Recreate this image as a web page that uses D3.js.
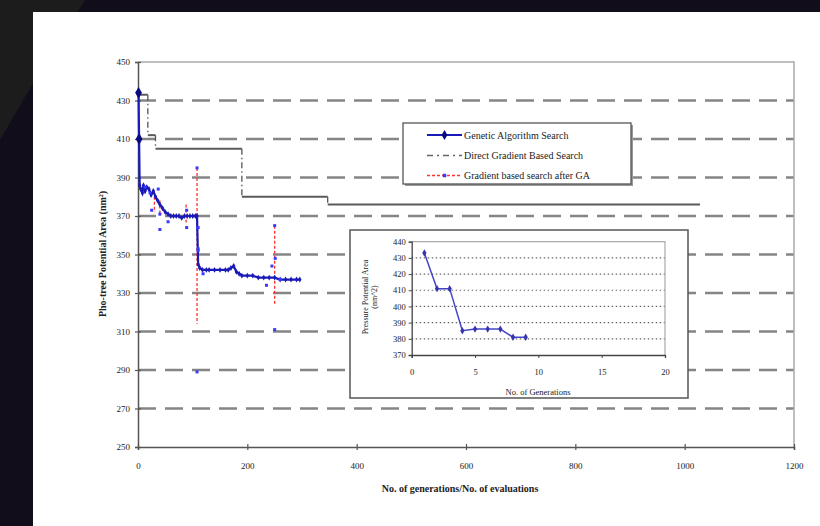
<!DOCTYPE html>
<html><head><meta charset="utf-8">
<script src="https://cdn.jsdelivr.net/npm/d3@7"></script>
<style>
html,body{margin:0;padding:0;background:#120d1a;}
svg{display:block;}
text{font-family:"Liberation Serif","Times New Roman",serif;fill:#222;}
</style></head><body>
<svg id="chart" width="820" height="526"></svg>
<script>
// ---- main chart data ----
const yTicks = [250,270,290,310,330,350,370,390,410,430,450];
const xTicks = [0,200,400,600,800,1000,1200];
// Genetic Algorithm Search (best value per generation)
const gaX = [1,2,3,5,8,10,13,16,20,24,28,32,36,40,45,50,55,60,65,70,75,80,85,90,95,100,105,108,110,113,118,125,130,140,150,160,165,170,175,180,185,190,200,210,220,230,240,250,260,270,280,290,296];
const gaY = [434,410,386,384,382,386,383,385,384,381,383,380,378,376,374,372,371,370,370,370,370,369,370,370,370,370,370,370,345,343,342,342,342,342,342,342,342,343,344,341,340,339,339,339,338,338,338,338,337,337,337,337,337];
// Direct Gradient Based Search (step line)
const dgX = [0,18,18,32,32,190,190,347,347,1028];
const dgY = [433,433,412,412,405,405,380,380,376,376];
// Gradient based search after GA: vertical dashed runs
const gsX = [30,40,88,108,250];
const gsTop = [380,378,376,395,365];
const gsBottom = [372,370,366,314,324];
// Gradient based search after GA: evaluated points
const gpX = [108,109,110,108,250,251,250,13,22,37,25,40,40,55,89,89,110,110,119,235,245,260];
const gpY = [395,364,353,289,365,348,311,385,382,384,373,371,363,367,373,364,364,352,340,334,344,337];
// ---- inset data ----
const inGen = [1,2,3,4,5,6,7,8,9];
const inVal = [433,411,411,385,386,386,386,381,381];
const inYTicks = [370,380,390,400,410,420,430,440];
const inXTicks = [0,5,10,15,20];
const legendLabels = ["Genetic Algorithm Search","Direct Gradient Based Search","Gradient based search after GA"];

const svg = d3.select("#chart");
// background shapes
svg.append("polygon").attr("points","0,0 85,0 33,83 0,140").attr("fill","#1c1c1c");
svg.append("rect").attr("x",33).attr("y",12).attr("width",787).attr("height",514).attr("fill","#fff");

const x = d3.scaleLinear().domain([0,1200]).range([138,794]);
const y = d3.scaleLinear().domain([250,450]).range([447,62]);

// gridlines
svg.append("g").selectAll("line").data(yTicks.filter(v=>v>250&&v<450)).join("line")
  .attr("x1",x(0)).attr("x2",x(1200)).attr("y1",d=>y(d)).attr("y2",d=>y(d))
  .attr("stroke","#858585").attr("stroke-width",2.5).attr("stroke-dasharray","18,9");
// border top/right
svg.append("path").attr("d",`M${x(0)},${y(450)}H${x(1200)}V${y(250)}`)
  .attr("fill","none").attr("stroke","#aaa").attr("stroke-width",1.5);

// axes
const yAxis = d3.axisLeft(y).tickValues(yTicks).tickSize(3).tickFormat(d3.format("d"));
const gy = svg.append("g").attr("transform",`translate(${x(0)},0)`).call(yAxis);
const xAxis = d3.axisBottom(x).tickValues(xTicks).tickSize(3).tickFormat(d3.format("d"));
const gx = svg.append("g").attr("transform",`translate(0,${y(250)})`).call(xAxis);
[gy,gx].forEach(g=>{
  g.select(".domain").attr("stroke","#555").attr("stroke-width",1.5);
  g.selectAll(".tick line").attr("stroke","#555").attr("stroke-width",1.2);
  g.selectAll(".tick text").attr("font-family","Liberation Serif, serif").attr("font-size",9).attr("fill","#333");
});
gy.selectAll(".tick line").attr("x1",3).attr("x2",-3);
gy.selectAll(".tick text").attr("x",-8);
gx.selectAll(".tick line").attr("y1",-3).attr("y2",3);
gx.selectAll(".tick text").attr("y",16);

// axis titles
svg.append("text").attr("x",460).attr("y",492).attr("text-anchor","middle")
  .attr("font-size",10).attr("font-weight","bold").text("No. of generations/No. of evaluations");
svg.append("text").attr("transform","translate(106,254) rotate(-90)").attr("text-anchor","middle")
  .attr("font-size",10).attr("font-weight","bold").text("Pho-tree Potential Area (nm²)");

// Direct gradient step line
const dgPts = dgX.map((d,i)=>[d,dgY[i]]);
for(let i=0;i<dgPts.length-1;i++){
  const a=dgPts[i], b=dgPts[i+1];
  const vert = a[0]===b[0];
  svg.append("line").attr("x1",x(a[0])).attr("y1",y(a[1])).attr("x2",x(b[0])).attr("y2",y(b[1]))
    .attr("stroke",vert?"#555":"#5a5a5a").attr("stroke-width",vert?1.3:2)
    .attr("stroke-dasharray",vert?"6,3,1.5,3":null);
}

// gradient after GA dashed runs
svg.append("g").selectAll("line").data(gsX).join("line")
  .attr("x1",d=>x(d)).attr("x2",d=>x(d))
  .attr("y1",(d,i)=>y(gsTop[i])).attr("y2",(d,i)=>y(gsBottom[i]))
  .attr("stroke","#ff3030").attr("stroke-width",1.3).attr("stroke-dasharray","3,2");

// GA line
const gaPts = gaX.map((d,i)=>[d,gaY[i]]);
svg.append("path").datum(gaPts)
  .attr("d",d3.line().x(d=>x(d[0])).y(d=>y(d[1])))
  .attr("fill","none").attr("stroke","#1a1ab8").attr("stroke-width",2.2);
svg.append("g").selectAll("path").data(gaPts).join("path")
  .attr("transform",d=>`translate(${x(d[0])},${y(d[1])})`)
  .attr("d",d3.symbol(d3.symbolDiamond,10))
  .attr("fill","#1a1ab8");
// emphasised first points
svg.append("g").selectAll("path").data(gaPts.slice(0,2)).join("path")
  .attr("transform",d=>`translate(${x(d[0])},${y(d[1])})`)
  .attr("d",d3.symbol(d3.symbolDiamond,40)).attr("fill","#0a0a80");

// gradient after GA points
svg.append("g").selectAll("path").data(gpX.map((d,i)=>[d,gpY[i]])).join("path")
  .attr("transform",d=>`translate(${x(d[0])},${y(d[1])})`)
  .attr("d",d3.symbol(d3.symbolSquare,9))
  .attr("fill","#3a3aff");

// legend
const lg = svg.append("g");
lg.append("rect").attr("x",405).attr("y",125).attr("width",228).attr("height",61).attr("fill","#999");
lg.append("rect").attr("x",403).attr("y",123).attr("width",228).attr("height",61)
  .attr("fill","#fff").attr("stroke","#555").attr("stroke-width",1.3);
const rowsY=[135,155.5,175.5];
lg.append("line").attr("x1",427).attr("x2",462).attr("y1",rowsY[0]).attr("y2",rowsY[0]).attr("stroke","#1a1ab8").attr("stroke-width",2);
lg.append("path").attr("transform",`translate(444.5,${rowsY[0]})`).attr("d",d3.symbol(d3.symbolDiamond,30)).attr("fill","#0a0a80");
lg.append("line").attr("x1",427).attr("x2",462).attr("y1",rowsY[1]).attr("y2",rowsY[1]).attr("stroke","#666").attr("stroke-width",1.5).attr("stroke-dasharray","6,4,2,4");
lg.append("line").attr("x1",427).attr("x2",462).attr("y1",rowsY[2]).attr("y2",rowsY[2]).attr("stroke","#ff3030").attr("stroke-width",1.3).attr("stroke-dasharray","3,2");
lg.append("path").attr("transform",`translate(444.5,${rowsY[2]})`).attr("d",d3.symbol(d3.symbolSquare,12)).attr("fill","#3a3aff");
lg.selectAll("text").data(legendLabels).join("text")
  .attr("x",464).attr("y",(d,i)=>rowsY[i]+3.5).attr("font-size",10).attr("fill","#333").text(d=>d);

// ---- inset ----
const ins = svg.append("g");
ins.append("rect").attr("x",350).attr("y",230).attr("width",338).attr("height",168)
  .attr("fill","#fff").attr("stroke","#555").attr("stroke-width",1.5);
const ix = d3.scaleLinear().domain([0,20]).range([411.7,665]);
const iy = d3.scaleLinear().domain([370,440]).range([355,241.7]);
ins.append("g").selectAll("line").data(inYTicks.filter(v=>v>370&&v<440)).join("line")
  .attr("x1",ix(0)).attr("x2",ix(20)).attr("y1",d=>iy(d)).attr("y2",d=>iy(d))
  .attr("stroke","#666").attr("stroke-width",1.2).attr("stroke-dasharray","1.5,2.5");
ins.append("path").attr("d",`M${ix(0)},${iy(440)}H${ix(20)}V${iy(370)}`)
  .attr("fill","none").attr("stroke","#aaa").attr("stroke-width",1.2);
const giy = ins.append("g").attr("transform",`translate(${ix(0)},0)`)
  .call(d3.axisLeft(iy).tickValues(inYTicks).tickSize(3).tickFormat(d3.format("d")));
const gix = ins.append("g").attr("transform",`translate(0,${iy(370)})`)
  .call(d3.axisBottom(ix).tickValues(inXTicks).tickSize(3).tickFormat(d3.format("d")));
[giy,gix].forEach(g=>{
  g.select(".domain").attr("stroke","#444").attr("stroke-width",1.3);
  g.selectAll(".tick line").attr("stroke","#444");
  g.selectAll(".tick text").attr("font-family","Liberation Serif, serif").attr("font-size",8.5).attr("fill","#333");
});
giy.selectAll(".tick text").attr("x",-6);
gix.selectAll(".tick text").attr("y",14);
ins.append("text").attr("x",538).attr("y",395).attr("text-anchor","middle").attr("font-size",8.5).attr("fill","#333").text("No. of Generations");
const iyl = ins.append("text").attr("transform","translate(368,297) rotate(-90)").attr("text-anchor","middle").attr("font-size",8).attr("fill","#333");
iyl.append("tspan").attr("x",0).attr("dy",0).text("Pressure Potential Area");
iyl.append("tspan").attr("x",0).attr("dy",9).text("(nm^2)");
const inPts = inGen.map((d,i)=>[d,inVal[i]]);
ins.append("path").datum(inPts).attr("d",d3.line().x(d=>ix(d[0])).y(d=>iy(d[1])))
  .attr("fill","none").attr("stroke","#4545c8").attr("stroke-width",1.5);
ins.append("g").selectAll("path").data(inPts).join("path")
  .attr("transform",d=>`translate(${ix(d[0])},${iy(d[1])})`)
  .attr("d",d3.symbol(d3.symbolDiamond,16)).attr("fill","#3535b0");
</script>
</body></html>
